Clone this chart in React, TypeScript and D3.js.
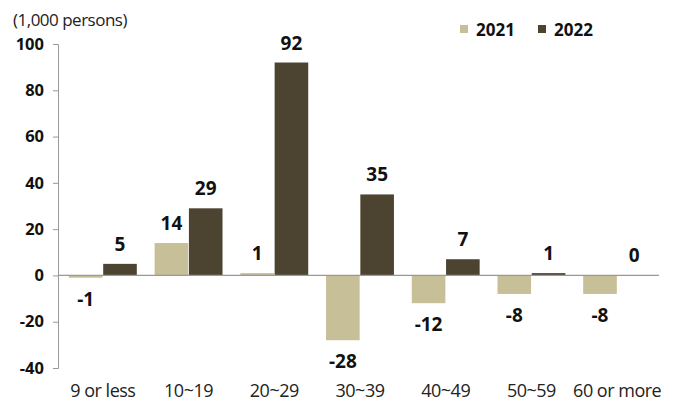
import React, { useEffect, useRef } from "react";
import * as d3 from "d3";

const categories = ["9 or less", "10~19", "20~29", "30~39", "40~49", "50~59", "60 or more"];
const series = ["2021", "2022"];
const values2021 = [-1, 14, 1, -28, -12, -8, -8];
const values2022 = [5, 29, 92, 35, 7, 1, 0];
const yTicks = [100, 80, 60, 40, 20, 0, -20, -40];
const colors = ["#c7bf97", "#4c4430"];

function drawChart(el: SVGSVGElement) {
  const svg = d3.select(el);
  svg.selectAll("*").remove();
  const font = "'Open Sans', 'Noto Sans', sans-serif";

  const x = d3.scaleBand().domain(categories).range([60, 660]).paddingInner(0).paddingOuter(0);
  const inner = d3.scaleBand().domain(series).range([0, x.bandwidth()]).paddingInner(0.02).paddingOuter(0.26);
  const y = d3.scaleLinear().domain([-40, 100]).range([368, 44]);

  // unit label
  svg.append("text").attr("x", 13).attr("y", 26).attr("font-family", font).attr("font-size", 17)
    .attr("letter-spacing", -0.5).attr("fill", "#222").text("(1,000 persons)");

  // bars
  const data = [values2021, values2022];
  data.forEach((vals, si) => {
    const g = svg.append("g");
    categories.forEach((c, i) => {
      const v = vals[i];
      const bx = (x(c) ?? 0) + (inner(series[si]) ?? 0);
      g.append("rect")
        .attr("x", bx)
        .attr("width", inner.bandwidth())
        .attr("y", Math.min(y(v), y(0)))
        .attr("height", Math.abs(y(v) - y(0)))
        .attr("fill", colors[si]);
      g.append("text")
        .attr("x", bx + inner.bandwidth() / 2)
        .attr("y", v >= 0 ? y(v) - 13 : y(v) + 28)
        .attr("text-anchor", "middle")
        .attr("font-family", font)
        .attr("font-weight", "bold")
        .attr("font-size", 19)
        .attr("fill", "#111")
        .text(v);
    });
  });

  // zero line
  svg.append("line").attr("x1", 58).attr("x2", 659).attr("y1", y(0)).attr("y2", y(0))
    .attr("stroke", "#999").attr("stroke-width", 1.2);

  // y axis
  const yAxis = svg.append("g").attr("transform", "translate(58,0)")
    .call(d3.axisLeft(y).tickValues(yTicks).tickFormat((d) => String(d)).tickSize(5).tickPadding(9));
  yAxis.select(".domain").attr("stroke", "#999");
  yAxis.selectAll(".tick line").attr("stroke", "#999");
  yAxis.selectAll("text").attr("font-family", font).attr("font-weight", "bold")
    .attr("font-size", 16.5).attr("fill", "#111");

  // x labels
  categories.forEach((c) => {
    svg.append("text")
      .attr("x", (x(c) ?? 0) + x.bandwidth() / 2)
      .attr("y", 397)
      .attr("text-anchor", "middle")
      .attr("font-family", font)
      .attr("font-size", 18)
      .attr("letter-spacing", -0.5)
      .attr("fill", "#222")
      .text(c);
  });

  // legend
  const legendX = [460, 538];
  series.forEach((s, i) => {
    svg.append("rect").attr("x", legendX[i]).attr("y", 25).attr("width", 8).attr("height", 8).attr("fill", colors[i]);
    svg.append("text").attr("x", legendX[i] + 16).attr("y", 36).attr("font-family", font)
      .attr("font-weight", "bold").attr("font-size", 17).attr("fill", "#111").text(s);
  });
}

export default function App() {
  const ref = useRef<SVGSVGElement>(null);
  useEffect(() => {
    if (ref.current) drawChart(ref.current);
  }, []);
  return (
    <svg ref={ref} width={675} height={406} style={{ position: "absolute", left: 0, top: 0, background: "#fff" }} />
  );
}
